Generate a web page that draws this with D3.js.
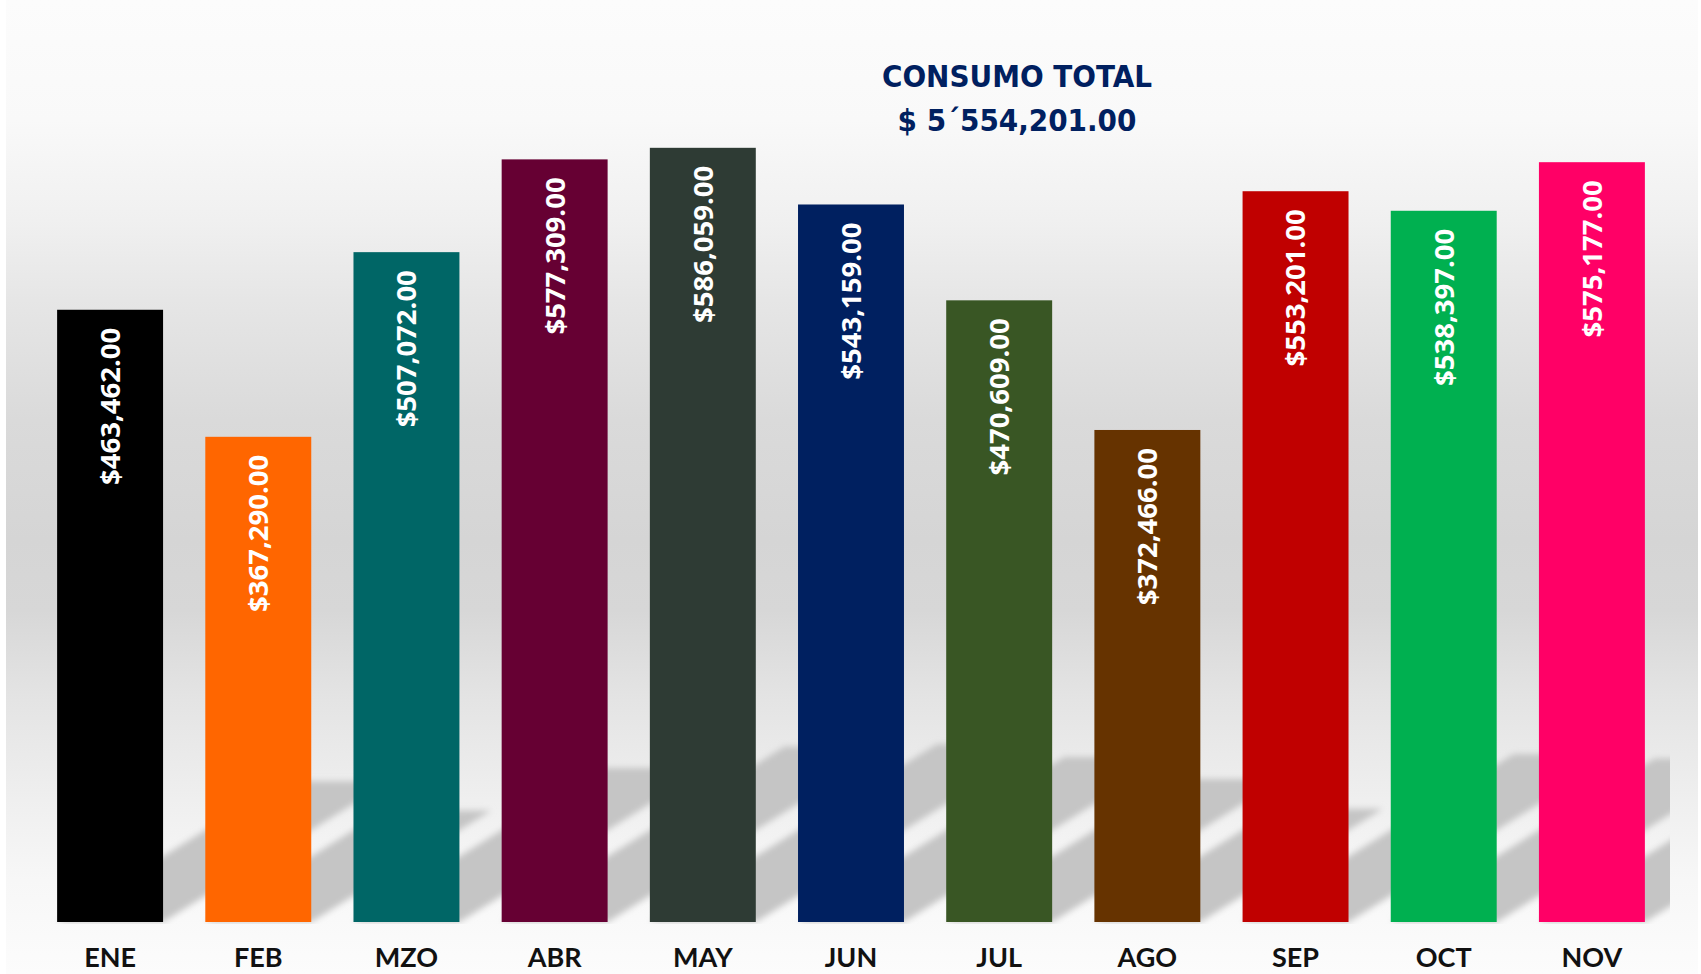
<!DOCTYPE html>
<html>
<head>
<meta charset="utf-8">
<script src="https://cdn.jsdelivr.net/npm/d3@7"></script>
<style>
  body { margin: 0; background: #ffffff; }
  svg { display: block; }
</style>
</head>
<body>
<div id="chart"></div>
<script>
// data
const months = ["ENE", "FEB", "MZO", "ABR", "MAY", "JUN", "JUL", "AGO", "SEP", "OCT", "NOV"];
const consumo = [463462, 367290, 507072, 577309, 586059, 543159, 470609, 372466, 553201, 538397, 575177];
const barColors = ["#000000", "#ff6600", "#006666", "#660033", "#2e3b34", "#002060",
                   "#395624", "#663300", "#c00000", "#00b050", "#ff0066"];
const titleLines = ["CONSUMO TOTAL", "$ 5\u00B4554,201.00"];

let width = 1701, height = 974;
let base = 922;
let svg, xScale, yScale;

const fmt = d3.format("$,.2f");

function initChart() {
  svg = d3.select("#chart").append("svg")
    .attr("width", width)
    .attr("height", height);

  let defs = svg.append("defs");

  // background gradient, light on top, greyer in the middle, light at the floor
  let grad = defs.append("linearGradient")
    .attr("id", "bg")
    .attr("gradientUnits", "userSpaceOnUse")
    .attr("x1", 0).attr("y1", 0).attr("x2", 0).attr("y2", height);
  [[0, "#fcfcfc"], [120, "#f9f9f9"], [220, "#f0f0f0"], [300, "#e6e6e6"], [420, "#dadada"],
   [540, "#d5d5d5"], [610, "#d7d7d7"], [700, "#e4e4e4"], [800, "#efefef"], [880, "#f7f7f7"], [974, "#fcfcfc"]]
    .forEach(s => grad.append("stop").attr("offset", s[0] / height).attr("stop-color", s[1]));

  defs.append("filter").attr("id", "blur")
    .attr("x", "-10%").attr("y", "-10%").attr("width", "120%").attr("height", "120%")
    .append("feGaussianBlur").attr("stdDeviation", 3.2);

  defs.append("clipPath").attr("id", "plotclip")
    .append("rect").attr("x", 6).attr("y", 0).attr("width", 1664).attr("height", base + 2);

  svg.append("rect")
    .attr("x", 6).attr("y", 0)
    .attr("width", 1692).attr("height", height)
    .attr("fill", "url(#bg)");

  xScale = d3.scaleBand()
    .domain(months)
    .range([36, 1666])
    .paddingInner(0.285)
    .paddingOuter(0.1425);

  yScale = d3.scaleLinear()
    .domain([0, 600000])
    .range([base, base - 600000 * 0.001321]);

  // perspective shadows going up to the right
  let shadowRatio = 0.23, slope = 0.62;
  svg.append("g")
    .attr("clip-path", "url(#plotclip)")
    .append("g")
    .attr("filter", "url(#blur)")
    .selectAll("path")
    .data(months)
    .join("path")
    .attr("fill", "#c5c5c5")
    .attr("d", (m, i) => {
      let x0 = xScale(m), x1 = x0 + xScale.bandwidth();
      let h = (yScale(0) - yScale(consumo[i])) * shadowRatio;
      let dx = h / slope;
      return `M${x0},${base}L${x1},${base}L${x1 + dx},${base - h}L${x0 + dx},${base - h}Z`;
    });

  // bars
  svg.append("g")
    .selectAll("rect")
    .data(months)
    .join("rect")
    .attr("x", m => xScale(m))
    .attr("width", xScale.bandwidth())
    .attr("y", (m, i) => yScale(consumo[i]))
    .attr("height", (m, i) => yScale(0) - yScale(consumo[i]))
    .attr("fill", (m, i) => barColors[i]);

  // value labels, rotated inside the bars
  svg.append("g")
    .selectAll("text")
    .data(months)
    .join("text")
    .attr("transform", (m, i) => `translate(${xScale(m) + xScale.bandwidth() / 2},${yScale(consumo[i]) + 18}) rotate(-90)`)
    .attr("dy", "0.36em")
    .attr("text-anchor", "end")
    .attr("fill", "#ffffff")
    .style("font-family", "'Open Sans', 'DejaVu Sans', sans-serif")
    .style("font-weight", 700)
    .style("font-size", "27.5px")
    .text((m, i) => fmt(consumo[i]));

  // month axis labels
  svg.append("g")
    .selectAll("text")
    .data(months)
    .join("text")
    .attr("x", m => xScale(m) + xScale.bandwidth() / 2)
    .attr("y", 967)
    .attr("text-anchor", "middle")
    .attr("fill", "#111111")
    .style("font-family", "Lato, 'Open Sans', sans-serif")
    .style("font-weight", 700)
    .style("font-size", "27px")
    .text(m => m);

  // title
  svg.append("g")
    .selectAll("text")
    .data(titleLines)
    .join("text")
    .attr("x", 1017)
    .attr("y", (d, i) => i == 0 ? 87 : 131)
    .attr("text-anchor", "middle")
    .attr("fill", "#002060")
    .style("font-family", "'DejaVu Sans Condensed', 'DejaVu Sans', sans-serif")
    .style("font-stretch", "condensed")
    .style("font-weight", 700)
    .style("font-size", "31px")
    .text(d => d);
}

initChart();
</script>
</body>
</html>
